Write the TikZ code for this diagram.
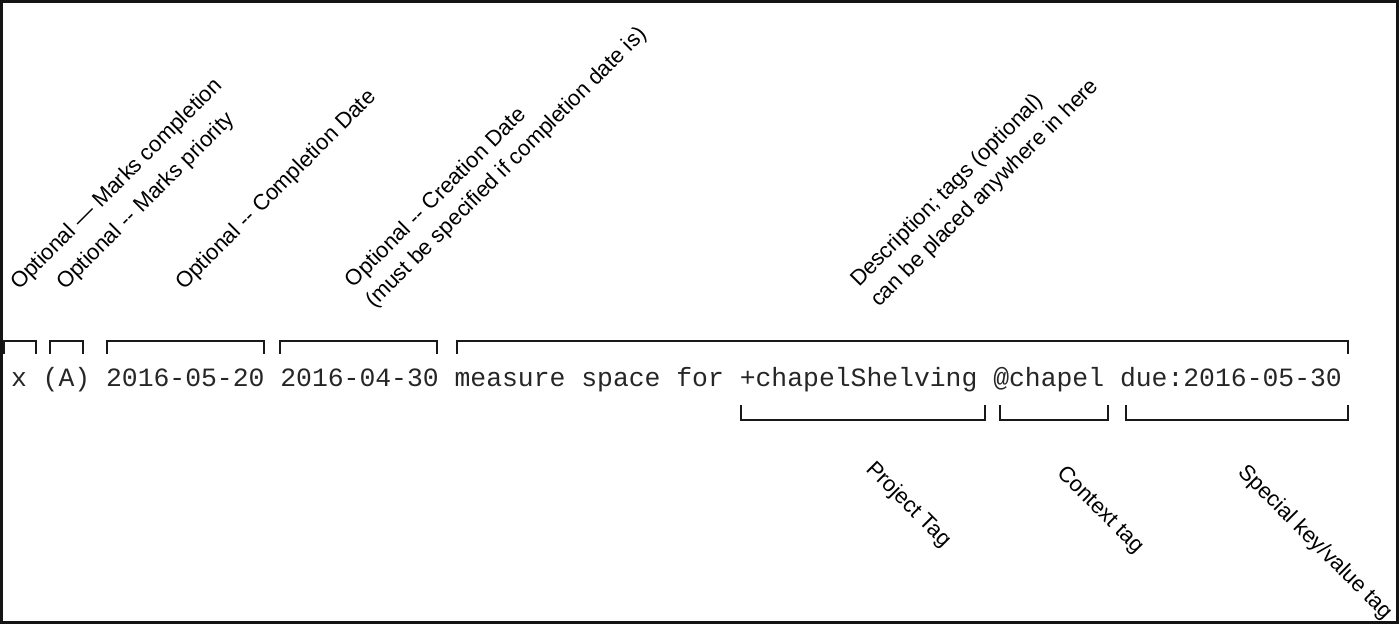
\documentclass[tikz,border=0pt]{standalone}
\usepackage{fontspec}
\usepackage{tikz}
\usetikzlibrary{positioning}
\newfontfamily\lblfont{Liberation Sans}
\newfontfamily\codefont{Liberation Mono}
\tikzset{
  code/.style={inner sep=0pt, outer sep=0pt, text=black!85, font=\codefont\fontsize{26.4}{30}\selectfont},
  note/.style={inner sep=0pt, anchor=base west, align=left, font=\lblfont\fontsize{22}{28.5}\selectfont},
  upnote/.style={note, rotate=45},
  downnote/.style={note, rotate=-45},
  brak/.style={line width=2pt, black!90}
}
\begin{document}
\begin{tikzpicture}[x=1pt, y=-1pt, node distance=15.85pt]
        \useasboundingbox (0,0) rectangle (1400,625);
        \draw[line width=3pt, black!92] (1.5,1.5) rectangle (1397,622);
        % the todo line
        \node[code, anchor=base west] (mark) at (11,386) {x};
        \node[code, base right=of mark] (pri) {(A)};
        \node[code, base right=of pri] (done) {2016-05-20};
        \node[code, base right=of done] (made) {2016-04-30};
        \node[code, base right=of made] (desc) {measure space for};
        \node[code, base right=of desc] (proj) {+chapelShelving};
        \node[code, base right=of proj] (ctx) {@chapel};
        \node[code, base right=of ctx] (due) {due:2016-05-30};
        % brackets above and below
        \foreach \a/\b in {4/36, 50/83, 107/264, 280/437, 457/1348}
            \draw[brak] (\a,354) |- (\b,341) -- (\b,354);
        \foreach \a/\b in {741/985, 1000/1108, 1126/1348}
            \draw[brak] (\a,405) |- (\b,420) -- (\b,405);
        % notes (two-line notes sit on their last line)
        \node[upnote] (markn) at (19,291) {Optional — Marks completion};
        \node[upnote] (prin) at (65,291) {Optional -- Marks priority};
        \node[upnote] (donen) at (184,291) {Optional -- Completion Date};
        \node[upnote] (maden) at (374,309) {Optional -- Creation Date\\(must be specified if completion date is)};
        \node[upnote] (descn) at (879,308) {Description; tags (optional)\\can be placed anywhere in here};
        \node[downnote] (projn) at (865,470) {Project Tag};
        \node[downnote] (ctxn) at (1056,474) {Context tag};
        \node[downnote] (duen) at (1237,473) {Special key/value tag};
\end{tikzpicture}
\end{document}
